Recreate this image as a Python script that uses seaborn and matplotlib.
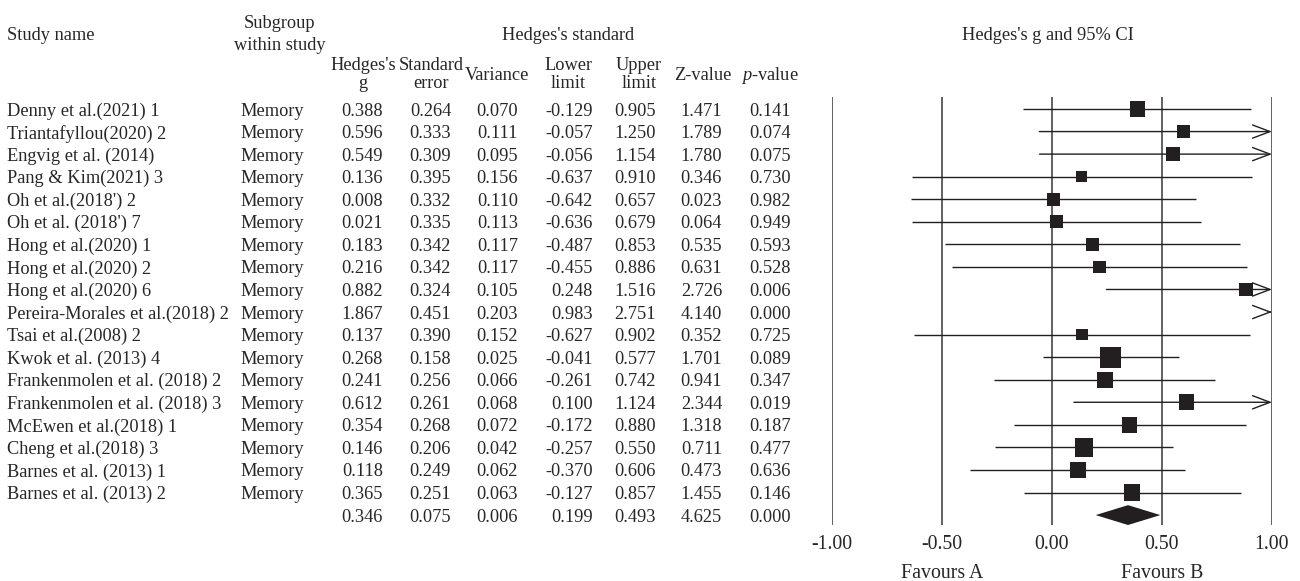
import numpy as np
import pandas as pd
import matplotlib
matplotlib.use('Agg')
import matplotlib.pyplot as plt
import matplotlib.transforms as mtransforms
import seaborn as sns

studies = ['Denny et al.(2021) 1', 'Triantafyllou(2020) 2', 'Engvig et al. (2014)',
           'Pang & Kim(2021) 3', "Oh et al.(2018') 2", "Oh et al. (2018') 7",
           'Hong et al.(2020) 1', 'Hong et al.(2020) 2', 'Hong et al.(2020) 6',
           'Pereira-Morales et al.(2018) 2', 'Tsai et al.(2008) 2', 'Kwok et al. (2013) 4',
           'Frankenmolen et al. (2018) 2', 'Frankenmolen et al. (2018) 3',
           'McEwen et al.(2018) 1', 'Cheng et al.(2018) 3', 'Barnes et al. (2013) 1',
           'Barnes et al. (2013) 2']
subgroup = ['Memory'] * len(studies)
hedges_g = [0.388, 0.596, 0.549, 0.136, 0.008, 0.021, 0.183, 0.216, 0.882,
            1.867, 0.137, 0.268, 0.241, 0.612, 0.354, 0.146, 0.118, 0.365]
std_err = [0.264, 0.333, 0.309, 0.395, 0.332, 0.335, 0.342, 0.342, 0.324,
           0.451, 0.390, 0.158, 0.256, 0.261, 0.268, 0.206, 0.249, 0.251]
variance = [0.070, 0.111, 0.095, 0.156, 0.110, 0.113, 0.117, 0.117, 0.105,
            0.203, 0.152, 0.025, 0.066, 0.068, 0.072, 0.042, 0.062, 0.063]
lower = [-0.129, -0.057, -0.056, -0.637, -0.642, -0.636, -0.487, -0.455, 0.248,
         0.983, -0.627, -0.041, -0.261, 0.100, -0.172, -0.257, -0.370, -0.127]
upper = [0.905, 1.250, 1.154, 0.910, 0.657, 0.679, 0.853, 0.886, 1.516,
         2.751, 0.902, 0.577, 0.742, 1.124, 0.880, 0.550, 0.606, 0.857]
z_value = [1.471, 1.789, 1.780, 0.346, 0.023, 0.064, 0.535, 0.631, 2.726,
           4.140, 0.352, 1.701, 0.941, 2.344, 1.318, 0.711, 0.473, 1.455]
p_value = [0.141, 0.074, 0.075, 0.730, 0.982, 0.949, 0.593, 0.528, 0.006,
           0.000, 0.725, 0.089, 0.347, 0.019, 0.187, 0.477, 0.636, 0.146]

# overall (last row)
sum_g, sum_se, sum_var = 0.346, 0.075, 0.006
sum_lower, sum_upper = 0.199, 0.493
sum_z, sum_p = 4.625, 0.000

ticks = [-1.0, -0.5, 0.0, 0.5, 1.0]

sns.set_theme(style='white')
plt.rcParams['font.family'] = ['Liberation Serif', 'DejaVu Serif']
plt.rcParams['axes.unicode_minus'] = False
plt.rcParams['mathtext.fontset'] = 'custom'
plt.rcParams['mathtext.rm'] = 'Liberation Serif'
plt.rcParams['mathtext.it'] = 'Liberation Serif:italic'

W, H = 1300, 581
FS = 13.2
INK = '#231f20'

df = pd.DataFrame({'study': studies, 'subgroup': subgroup, 'g': hedges_g, 'se': std_err,
                   'var': variance, 'lower': lower, 'upper': upper,
                   'z': z_value, 'p': p_value})
df['row'] = np.arange(len(df))
n = len(df)
# square area ~ random-effects weight
df['weight'] = 1 / (df['var'] + 0.03)

fig = plt.figure(figsize=(13, 5.81), dpi=100)
ax = fig.add_axes([831.7 / W, 1 - 525 / H, (1272 - 831.7) / W, (525 - 97) / H])

for t in ticks:
    ax.axvline(t, color='#555555', lw=1.3, zorder=1)

inside = df[df['upper'] <= 1]
ax.hlines(inside['row'], inside['lower'], inside['upper'], color=INK, lw=1.0, zorder=2)
for _, r in df[df['upper'] > 1].iterrows():
    ax.annotate('', xy=(1.0, r['row']), xytext=(r['lower'], r['row']),
                arrowprops=dict(arrowstyle='->,head_length=0.9,head_width=0.34',
                                color=INK, lw=1.0, shrinkA=0, shrinkB=0,
                                mutation_scale=14), zorder=2)

k = 12.5
wmin, wmax = df['weight'].min(), df['weight'].max()
sns.scatterplot(data=df, x='g', y='row', size='weight', sizes=(k * wmin, k * wmax),
                size_norm=(wmin, wmax), marker='s', color=INK, linewidth=0,
                legend=False, ax=ax, zorder=3)

ax.fill([sum_lower, sum_g, sum_upper, sum_g], [n, n - 0.44, n, n + 0.44],
        color=INK, lw=0, zorder=3)

ax.set_xlim(-1, 1)
ax.set_ylim(n + 0.44, -0.532)
ax.set_xticks(ticks)
ax.set_xticklabels(['%.2f' % t for t in ticks], fontsize=14.3)
ax.set_yticks([])
ax.set_xlabel('')
ax.set_ylabel('')
ax.tick_params(axis='x', length=0, pad=7)
for s in ax.spines.values():
    s.set_visible(False)

fav = mtransforms.blended_transform_factory(ax.transData, fig.transFigure)
ax.text(-0.5, 1 - 574 / H, 'Favours A', transform=fav, ha='center', va='center', fontsize=14.3)
ax.text(0.5, 1 - 574 / H, 'Favours B', transform=fav, ha='center', va='center', fontsize=14.3)

# headers
def head(px, py, s, ha='center'):
    fig.text(px / W, 1 - py / H, s, ha=ha, va='center_baseline', fontsize=FS)

head(7, 33, 'Study name', ha='left')
head(280, 21, 'Subgroup')
head(280, 43, 'within study')
head(568, 33, "Hedges's standard")
head(1048, 33, "Hedges's g and 95% CI")
head(363, 63, "Hedges's")
head(363, 82, 'g')
head(431, 63, 'Standard')
head(431, 82, 'error')
head(497, 73, 'Variance')
head(568, 63, 'Lower')
head(568, 82, 'limit')
head(639, 63, 'Upper')
head(639, 82, 'limit')
head(703, 73, 'Z-value')
head(770, 73, '$p$-value')

# table body
tr = mtransforms.blended_transform_factory(fig.transFigure, ax.transData)
cols = [('g', 383), ('se', 451), ('var', 518), ('lower', 593),
        ('upper', 656), ('z', 722), ('p', 791)]
for _, r in df.iterrows():
    y = r['row']
    ax.text(7 / W, y, r['study'], transform=tr, ha='left', va='center_baseline', fontsize=FS)
    ax.text(240 / W, y, r['subgroup'], transform=tr, ha='left', va='center_baseline', fontsize=FS)
    for c, px in cols:
        ax.text(px / W, y, '%.3f' % r[c], transform=tr, ha='right',
                va='center_baseline', fontsize=FS, clip_on=False)

summary_vals = [sum_g, sum_se, sum_var, sum_lower, sum_upper, sum_z, sum_p]
for v, (c, px) in zip(summary_vals, cols):
    ax.text(px / W, n, '%.3f' % v, transform=tr, ha='right', va='center_baseline', fontsize=FS)

fig.savefig('out.png', dpi=100, facecolor='white')
